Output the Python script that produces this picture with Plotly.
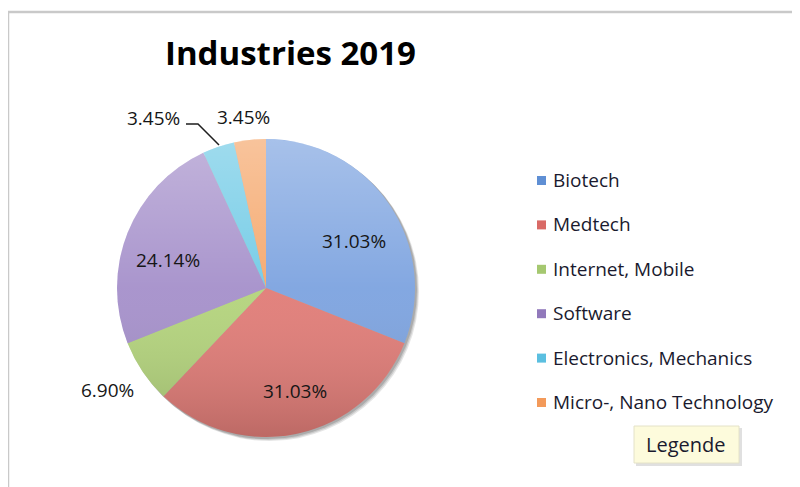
import base64
import plotly.graph_objects as go

W, H = 800, 487
OFF = 8  # page body margin

categories = ["Biotech", "Medtech", "Internet, Mobile", "Software",
              "Electronics, Mechanics", "Micro-, Nano Technology"]
counts = [9, 9, 2, 7, 1, 1]
slice_colors = ["#7ea4e0", "#e17d78", "#b4d47d", "#a691cb", "#72cbe6", "#f5a86d"]
legend_colors = ["#5f8fd4", "#d96a66", "#a5c870", "#9179bb", "#5bbfe0", "#f39a5a"]
title_text = "Industries 2019"
legend_tooltip = "Legende"

# label anchor pixels (text placement only)
label_px = [(354, 241), (295, 391), (107, 390), (168, 260), (153, 118), (243, 117)]

FONT = "Open Sans"
total = sum(counts)
pct_text = [f"{c / total * 100:.2f}%" for c in counts]


def px(x, y):
    return (x - OFF) / W, 1 - (y - OFF) / H


cx, cy, r = 266, 288, 149
dx0, dy0 = px(cx - r, cy + r)
dx1, dy1 = px(cx + r, cy - r)

fig = go.Figure()
fig.add_trace(go.Pie(
    labels=categories, values=counts, sort=False, direction="clockwise",
    rotation=0, marker=dict(colors=slice_colors, line=dict(width=0)),
    textinfo="none", hoverinfo="label+percent", showlegend=False,
    domain=dict(x=[dx0, dx1], y=[dy0, dy1]),
))

# soft vertical shading over the pie (light top, darker bottom)
svg = ('<svg xmlns="http://www.w3.org/2000/svg" viewBox="0 0 100 100" preserveAspectRatio="none">'
       '<defs><linearGradient id="g" x1="0" y1="0" x2="0" y2="1">'
       '<stop offset="0" stop-color="#ffffff" stop-opacity="0.32"/>'
       '<stop offset="0.5" stop-color="#ffffff" stop-opacity="0.04"/>'
       '<stop offset="1" stop-color="#000000" stop-opacity="0.16"/>'
       '</linearGradient></defs><circle cx="50" cy="50" r="50" fill="url(#g)"/></svg>')
src = "data:image/svg+xml;base64," + base64.b64encode(svg.encode()).decode()

shapes = []
# chart frame
fx0, fy0 = px(8, 12)
shapes.append(dict(type="rect", xref="paper", yref="paper", x0=fx0, y0=-0.05,
                   x1=1.05, y1=fy0, line=dict(color="#c9c9c9", width=2.5),
                   fillcolor="rgba(0,0,0,0)", layer="below"))
# pie shadow
for off, op in [(4, 0.10), (3, 0.12), (2, 0.15)]:
    a0, b0 = px(cx - r + off - 1, cy + r + off)
    a1, b1 = px(cx + r + off, cy - r + off - 1)
    shapes.append(dict(type="circle", xref="paper", yref="paper", x0=a0, y0=b0,
                       x1=a1, y1=b1, line=dict(width=0),
                       fillcolor=f"rgba(0,0,0,{op})", layer="below"))
# leader line for the Electronics label
p1 = px(186, 124); p2 = px(198, 124); p3 = px(219, 145)
shapes.append(dict(type="path", xref="paper", yref="paper",
                   path=f"M {p1[0]},{p1[1]} L {p2[0]},{p2[1]} L {p3[0]},{p3[1]}",
                   line=dict(color="#1e1e1e", width=1.5)))

annotations = []
tx, ty = px(290, 52)
annotations.append(dict(x=tx, y=ty, xref="paper", yref="paper", text=f"<b>{title_text}</b>",
                        showarrow=False, font=dict(family=FONT, size=33, color="#000000"),
                        xanchor="center", yanchor="middle"))
for (lx, ly), t in zip(label_px, pct_text):
    ax, ay = px(lx, ly)
    annotations.append(dict(x=ax, y=ay, xref="paper", yref="paper", text=t, showarrow=False,
                            font=dict(family=FONT, size=19, color="#161616"),
                            xanchor="center", yanchor="middle"))

# legend
leg_y0, leg_step = 180, 44.4
for i, (name, col) in enumerate(zip(categories, legend_colors)):
    yy = leg_y0 + i * leg_step
    s0 = px(537, yy + 5); s1 = px(546, yy - 4)
    shapes.append(dict(type="rect", xref="paper", yref="paper", x0=s0[0], y0=s0[1],
                       x1=s1[0], y1=s1[1], line=dict(width=0), fillcolor=col))
    lx, ly = px(551, yy)
    annotations.append(dict(x=lx, y=ly, xref="paper", yref="paper", text=name,
                            showarrow=False, font=dict(family=FONT, size=19, color="#1a1a2e"),
                            xanchor="left", yanchor="middle"))

# tooltip box
b0 = px(634, 463); b1 = px(739, 426)
sh0 = px(636, 466); sh1 = px(742, 428)
shapes.append(dict(type="rect", xref="paper", yref="paper", x0=sh0[0], y0=sh0[1],
                   x1=sh1[0], y1=sh1[1], line=dict(width=0), fillcolor="rgba(0,0,0,0.12)"))
shapes.append(dict(type="rect", xref="paper", yref="paper", x0=b0[0], y0=b0[1],
                   x1=b1[0], y1=b1[1], line=dict(color="#e4e2c8", width=1),
                   fillcolor="#fdfbdc"))
gx, gy = px(686, 444)
annotations.append(dict(x=gx, y=gy, xref="paper", yref="paper", text=legend_tooltip,
                        showarrow=False, font=dict(family=FONT, size=20, color="#1a1a2e"),
                        xanchor="center", yanchor="middle"))

fig.update_layout(
    width=W, height=H, margin=dict(l=0, r=0, t=0, b=0),
    paper_bgcolor="white", plot_bgcolor="white",
    shapes=shapes, annotations=annotations, showlegend=False,
    images=[dict(source=src, xref="paper", yref="paper", x=dx0, y=dy1,
                 sizex=dx1 - dx0, sizey=dy1 - dy0, sizing="stretch",
                 xanchor="left", yanchor="top", layer="above")],
)
fig.write_html("out.html")
